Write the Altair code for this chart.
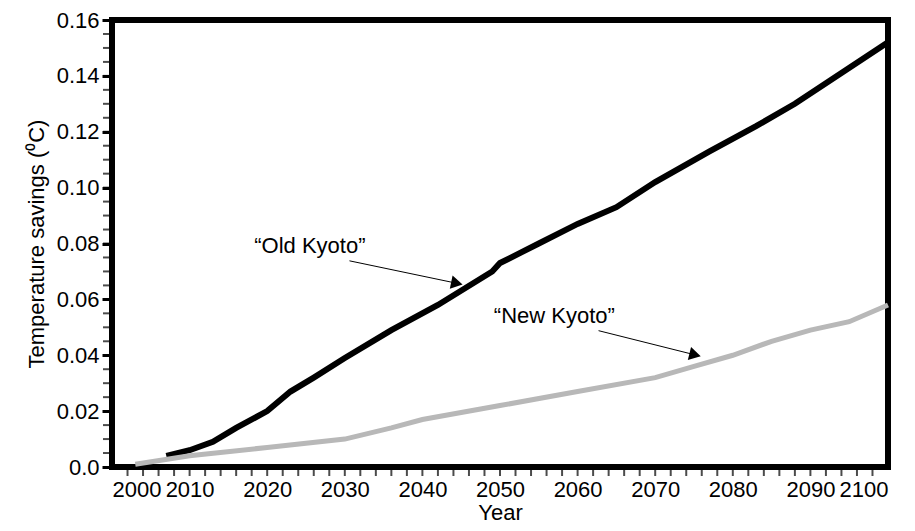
import altair as alt
import pandas as pd

old_year = [2007, 2010, 2013, 2016, 2020, 2023, 2026, 2030, 2036, 2042, 2049, 2050, 2055, 2060, 2065, 2070, 2077, 2083, 2088, 2094, 2100]
old_val = [0.004, 0.006, 0.009, 0.014, 0.020, 0.027, 0.032, 0.039, 0.049, 0.058, 0.070, 0.073, 0.080, 0.087, 0.093, 0.102, 0.113, 0.122, 0.130, 0.141, 0.152]
new_year = [2003, 2010, 2020, 2030, 2036, 2040, 2050, 2060, 2070, 2075, 2080, 2085, 2090, 2095, 2100]
new_val = [0.001, 0.004, 0.007, 0.010, 0.014, 0.017, 0.022, 0.027, 0.032, 0.036, 0.040, 0.045, 0.049, 0.052, 0.058]

labels = ["\u201cOld Kyoto\u201d", "\u201cNew Kyoto\u201d"]
label_x = [2025.5, 2057.0]
label_y = [0.0790, 0.0540]
arrow_x1 = [2030.6, 2062.7]
arrow_y1 = [0.0738, 0.0488]
arrow_x2 = [2044.2, 2074.9]
arrow_y2 = [0.0659, 0.0403]
arrow_angle = [102, 104]

series = pd.concat([
    pd.DataFrame({"year": old_year, "val": old_val, "s": "old"}),
    pd.DataFrame({"year": new_year, "val": new_val, "s": "new"}),
])
ann = pd.DataFrame({"label": labels, "lx": label_x, "ly": label_y,
                    "x1": arrow_x1, "y1": arrow_y1, "x2": arrow_x2, "y2": arrow_y2,
                    "angle": arrow_angle})

xs = alt.Scale(domain=[2000, 2100], nice=False)
ys = alt.Scale(domain=[0, 0.16], nice=False)
font = "Liberation Sans"
fs = 22

lines = alt.Chart(series).mark_line(strokeCap="butt").encode(
    x=alt.X("year:Q", scale=xs, axis=alt.Axis(
        title="Year", values=list(range(2000, 2101, 10)), format="d",
        domain=False, ticks=False, labelFontSize=fs, titleFontSize=fs,
        labelFont=font, titleFont=font, labelColor="black", titleColor="black",
        grid=False, labelPadding=12, titlePadding=2, labelFontWeight="normal", titleFontWeight="normal")),
    y=alt.Y("val:Q", scale=ys, axis=alt.Axis(
        title="Temperature savings (\u2070C)", values=[0, 0.02, 0.04, 0.06, 0.08, 0.10, 0.12, 0.14, 0.16],
        labelExpr="datum.value == 0 ? '0.0' : format(datum.value, '.2f')",
        domain=False, tickColor="black", tickWidth=3, tickSize=10, labelFontSize=fs, titleFontSize=fs,
        labelFont=font, titleFont=font, labelColor="black", titleColor="black",
        grid=False, labelPadding=3, titlePadding=8, titleFontWeight="normal")),
    color=alt.Color("s:N", scale=alt.Scale(domain=["old", "new"], range=["black", "#b8b8b8"]), legend=None),
    strokeWidth=alt.StrokeWidth("s:N", scale=alt.Scale(domain=["old", "new"], range=[6, 5]), legend=None),
)

xminor = alt.Chart(pd.DataFrame({"t": list(range(2002, 2100, 2))})).mark_tick(
    orient="vertical", color="black", thickness=2, size=6, yOffset=6
).encode(x=alt.X("t:Q", scale=xs), y=alt.value(447))

yminor = alt.Chart(pd.DataFrame({"t": [i * 0.005 for i in range(1, 32)]})).mark_tick(
    orient="horizontal", color="black", thickness=2, size=6, xOffset=-6
).encode(y=alt.Y("t:Q", scale=ys), x=alt.value(0))

text = alt.Chart(ann).mark_text(fontSize=fs, font=font, color="black").encode(
    x=alt.X("lx:Q", scale=xs), y=alt.Y("ly:Q", scale=ys), text="label:N")

arrow_line = alt.Chart(ann).mark_rule(color="black", strokeWidth=1).encode(
    x=alt.X("x1:Q", scale=xs), y=alt.Y("y1:Q", scale=ys),
    x2="x2:Q", y2="y2:Q")

heads = alt.Chart(ann).mark_point(shape="triangle", filled=True, color="black", opacity=1, size=180).encode(
    x=alt.X("x2:Q", scale=xs), y=alt.Y("y2:Q", scale=ys), angle=alt.Angle("angle:Q", scale=None))

chart = alt.layer(lines, xminor, yminor, arrow_line, heads, text).properties(
    width=776, height=447, autosize=alt.AutoSizeParams(type="none"),
    padding={"left": 104, "top": 12, "right": 18, "bottom": 62}
).configure_view(stroke="black", strokeWidth=6)

chart.save("out.html", embed_options={"renderer": "svg", "actions": False})
